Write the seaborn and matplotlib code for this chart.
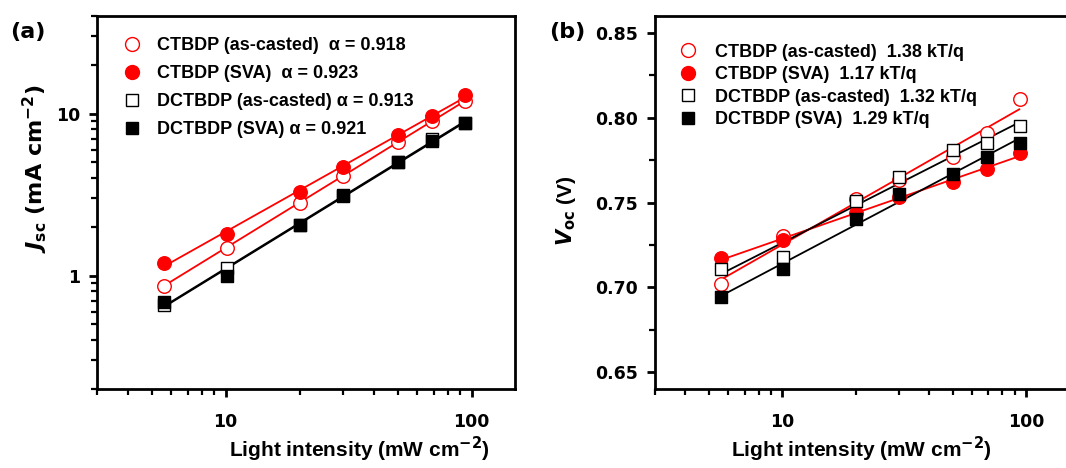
import numpy as np
import pandas as pd
import seaborn as sns
import matplotlib
matplotlib.use("Agg")
import matplotlib.pyplot as plt
from matplotlib.lines import Line2D
from matplotlib.ticker import LogLocator, NullFormatter, FixedLocator, MultipleLocator, FormatStrFormatter

# ---------------- data ----------------
intensity = [5.6, 10.1, 20.0, 30.0, 50.0, 69.0, 94.0]

series_names = ["CTBDP (as-casted)", "CTBDP (SVA)", "DCTBDP (as-casted)", "DCTBDP (SVA)"]

jsc_ct_as = [0.87, 1.49, 2.82, 4.10, 6.70, 8.97, 12.0]
jsc_ct_sva = [1.20, 1.81, 3.29, 4.68, 7.33, 9.70, 13.0]
jsc_dct_as = [0.66, 1.11, 2.05, 3.10, 5.00, 7.00, 8.80]
jsc_dct_sva = [0.69, 1.00, 2.05, 3.14, 5.02, 6.76, 8.72]

voc_ct_as = [0.702, 0.730, 0.752, 0.763, 0.777, 0.791, 0.811]
voc_ct_sva = [0.717, 0.728, 0.744, 0.753, 0.762, 0.770, 0.779]
voc_dct_as = [0.711, 0.718, 0.751, 0.765, 0.781, 0.785, 0.795]
voc_dct_sva = [0.694, 0.711, 0.740, 0.755, 0.767, 0.777, 0.785]

alpha_labels = ["0.918", "0.923", "0.913", "0.921"]
n_labels = ["1.38", "1.17", "1.32", "1.29"]

jsc_all = [jsc_ct_as, jsc_ct_sva, jsc_dct_as, jsc_dct_sva]
voc_all = [voc_ct_as, voc_ct_sva, voc_dct_as, voc_dct_sva]

# ---------------- style ----------------
sns.set_style("ticks")
plt.rcParams["font.family"] = ["Liberation Sans", "DejaVu Sans"]
plt.rcParams["font.weight"] = "bold"
plt.rcParams["mathtext.fontset"] = "custom"
plt.rcParams["mathtext.rm"] = "DejaVu Sans:bold"
plt.rcParams["mathtext.it"] = "DejaVu Sans:bold:italic"
plt.rcParams["mathtext.bf"] = "DejaVu Sans:bold"
for k in ["text.color", "axes.labelcolor", "xtick.color", "ytick.color", "axes.edgecolor"]:
    plt.rcParams[k] = "black"

RED = "#ff0000"
styles = [
    dict(marker="o", color=RED, filled=False),
    dict(marker="o", color=RED, filled=True),
    dict(marker="s", color="black", filled=False),
    dict(marker="s", color="black", filled=True),
]

rows = []
for name, j, v in zip(series_names, jsc_all, voc_all):
    for x, jj, vv in zip(intensity, j, v):
        rows.append(dict(series=name, intensity=x, jsc=jj, voc=vv))
df = pd.DataFrame(rows)

W, H = 1066, 468
fig = plt.figure(figsize=(W / 100, H / 100), dpi=100)
axA = fig.add_axes([97 / W, (H - 389) / H, 418 / W, 373 / H])
axB = fig.add_axes([655 / W, (H - 389) / H, 414 / W, 373 / H])

def draw(ax, ycol, logy):
    for name, st in zip(series_names, styles):
        sub = df[df.series == name]
        x = np.log10(sub.intensity.values)
        y = np.log10(sub[ycol].values) if logy else sub[ycol].values
        p = np.polyfit(x, y, 1)
        xf = np.array([x[0] + 0.01, x[-1]])
        yf = np.polyval(p, xf)
        if logy:
            yf = 10 ** yf
        ax.plot(10 ** xf, yf, color=st["color"], lw=1.3, zorder=2)
        sns.scatterplot(data=sub, x="intensity", y=ycol, ax=ax,
                        marker=st["marker"], s=95 if st["marker"] == "o" else 80,
                        facecolor=st["color"] if st["filled"] else "white",
                        edgecolor=st["color"], linewidth=1.0, zorder=3, legend=False)

draw(axA, "jsc", True)
draw(axB, "voc", False)

for ax in (axA, axB):
    ax.set_xscale("log")
    ax.set_xlim(3, 150)
    ax.xaxis.set_major_locator(FixedLocator([10, 100]))
    ax.xaxis.set_major_formatter(FormatStrFormatter("%d"))
    ax.xaxis.set_minor_locator(LogLocator(base=10, subs=np.arange(2, 10)))
    ax.xaxis.set_minor_formatter(NullFormatter())
    for s in ax.spines.values():
        s.set_linewidth(2.0)
        s.set_visible(True)
        s.set_color("black")
    ax.tick_params(which="major", direction="out", length=6, width=2.0, labelsize=12.5, pad=6,
                   labelfontfamily="DejaVu Sans", colors="black")
    ax.tick_params(axis="x", which="major", pad=11)
    ax.tick_params(which="minor", direction="out", length=4, width=1.6, colors="black")
    ax.set_xlabel("Light intensity (mW cm$^{-2}$)", fontsize=15, fontweight="bold")

axA.xaxis.set_label_coords(0.629, -0.122)
axB.xaxis.set_label_coords(0.498, -0.122)

axA.set_yscale("log")
axA.set_ylim(0.2, 40)
axA.yaxis.set_major_locator(FixedLocator([1, 10]))
axA.yaxis.set_major_formatter(FormatStrFormatter("%d"))
axA.yaxis.set_minor_locator(LogLocator(base=10, subs=np.arange(2, 10)))
axA.yaxis.set_minor_formatter(NullFormatter())
axA.set_ylabel(r"$J_{\rm sc}$ (mA cm$^{-2}$)", fontsize=16, fontweight="bold",
               family=["DejaVu Sans"])
axA.yaxis.set_label_coords(-0.112, 0.59)

axB.set_ylim(0.64, 0.86)
axB.yaxis.set_major_locator(MultipleLocator(0.05))
axB.yaxis.set_minor_locator(MultipleLocator(0.025))
axB.yaxis.set_major_formatter(FormatStrFormatter("%.2f"))
axB.set_ylabel(r"$V_{\rm oc}$ (V)", fontsize=15, fontweight="bold")
axB.yaxis.set_label_coords(-0.185, 0.477)

def handles():
    hs = []
    for st in styles:
        hs.append(Line2D([], [], ls="none", marker=st["marker"], markersize=10 if st["marker"] == "o" else 9,
                         markerfacecolor=st["color"] if st["filled"] else "white",
                         markeredgecolor=st["color"], markeredgewidth=1.0))
    return hs

labA = [f"{series_names[0]}  \u03b1 = {alpha_labels[0]}",
        f"{series_names[1]}  \u03b1 = {alpha_labels[1]}",
        f"{series_names[2]} \u03b1 = {alpha_labels[2]}",
        f"{series_names[3]} \u03b1 = {alpha_labels[3]}"]
legA = axA.legend(handles(), labA, loc="upper left", bbox_to_anchor=(0.04, 0.962), frameon=False,
                  prop=dict(size=13, weight="bold"), handletextpad=0.8, labelspacing=0.6,
                  borderaxespad=0, handlelength=1.2)
labB = [f"{n}  {v} kT/q" for n, v in zip(series_names, n_labels)]
legB = axB.legend(handles(), labB, loc="upper left", bbox_to_anchor=(0.036, 0.945), frameon=False,
                  prop=dict(size=13, weight="bold"), handletextpad=0.9, labelspacing=0.3,
                  borderaxespad=0, handlelength=1.2)

fig.text(10 / W, 1 - 32 / H, "(a)", fontsize=16, fontweight="bold", family=["DejaVu Sans"], va="center")
fig.text(549 / W, 1 - 32 / H, "(b)", fontsize=16, fontweight="bold", family=["DejaVu Sans"], va="center")

fig.savefig("out.png", dpi=100)
